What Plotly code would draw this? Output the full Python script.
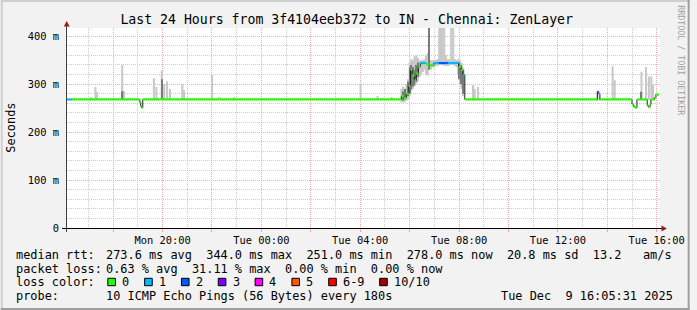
import plotly.graph_objects as go

# ---------------- data ----------------
TITLE = "Last 24 Hours from 3f4104eeb372 to IN - Chennai: ZenLayer"
Y_TITLE = "Seconds"
WATERMARK = "RRDTOOL / TOBI OETIKER"

X_RANGE = ["2025-12-08 16:08", "2025-12-09 16:08"]
Y_RANGE = [0, 417]
Y_TICKS = [0, 100, 200, 300, 400]
Y_TICK_TEXT = ["0", "100 m", "200 m", "300 m", "400 m"]
X_TICKS = ["2025-12-08 18:00", "2025-12-08 20:00", "2025-12-08 22:00",
           "2025-12-09 00:00", "2025-12-09 02:00", "2025-12-09 04:00",
           "2025-12-09 06:00", "2025-12-09 08:00", "2025-12-09 10:00",
           "2025-12-09 12:00", "2025-12-09 14:00", "2025-12-09 16:00"]
X_TICK_TEXT = ["", "Mon 20:00", "", "Tue 00:00", "", "Tue 04:00",
               "", "Tue 08:00", "", "Tue 12:00", "", "Tue 16:00"]

# median rtt (ms), step values; loss class index per step
MED_TIME = ["2025-12-08 16:08", "2025-12-08 16:20", "2025-12-08 19:05", "2025-12-08 19:07",
            "2025-12-08 19:09", "2025-12-08 19:12",
            "2025-12-09 05:40", "2025-12-09 05:46", "2025-12-09 05:52", "2025-12-09 05:58",
            "2025-12-09 06:02", "2025-12-09 06:06", "2025-12-09 06:12", "2025-12-09 06:16",
            "2025-12-09 06:21", "2025-12-09 06:26", "2025-12-09 06:40", "2025-12-09 06:48",
            "2025-12-09 06:59", "2025-12-09 07:11", "2025-12-09 07:33", "2025-12-09 07:59",
            "2025-12-09 08:05", "2025-12-09 08:09", "2025-12-09 08:14",
            "2025-12-09 13:36", "2025-12-09 13:39", "2025-12-09 13:42",
            "2025-12-09 15:00", "2025-12-09 15:04", "2025-12-09 15:08", "2025-12-09 15:12",
            "2025-12-09 15:37", "2025-12-09 15:40", "2025-12-09 15:44", "2025-12-09 15:46",
            "2025-12-09 15:55", "2025-12-09 15:58"]
MED_RTT = [268, 268, 262, 254, 251, 268,
           275, 271, 280, 296, 330, 318, 308, 322, 336, 344, 342, 339,
           344, 344, 344, 336, 329, 319, 268,
           284, 280, 268,
           258, 253, 251, 268,
           255, 252, 258, 268,
           272, 278]
MED_LOSS = [1, 0, 0, 0, 0, 0,
            0, 0, 0, 0, 0, 0, 0, 0, 0, 1, 0, 0,
            1, 2, 1, 0, 0, 1, 0,
            4, 1, 0,
            0, 0, 0, 0,
            0, 0, 0, 0,
            0, 0]
DATA_END = "2025-12-09 16:05"

# smoke (light) : time, min rtt, max rtt
SMOKE_TIME = ["2025-12-08 17:06", "2025-12-08 17:17", "2025-12-08 17:21", "2025-12-08 18:22",
              "2025-12-08 18:26", "2025-12-08 19:39", "2025-12-08 19:45", "2025-12-08 19:58",
              "2025-12-08 20:04", "2025-12-08 20:11", "2025-12-08 20:18", "2025-12-08 20:48",
              "2025-12-08 20:52", "2025-12-08 22:00", "2025-12-08 22:18", "2025-12-08 22:54",
              "2025-12-09 04:01", "2025-12-09 04:42", "2025-12-09 05:16",
              "2025-12-09 05:40", "2025-12-09 05:44", "2025-12-09 05:48", "2025-12-09 05:52",
              "2025-12-09 05:56", "2025-12-09 06:00", "2025-12-09 06:04", "2025-12-09 06:08",
              "2025-12-09 06:12", "2025-12-09 06:16", "2025-12-09 06:20", "2025-12-09 06:24",
              "2025-12-09 06:28", "2025-12-09 06:32", "2025-12-09 06:36", "2025-12-09 06:40",
              "2025-12-09 06:44", "2025-12-09 06:52", "2025-12-09 06:56", "2025-12-09 07:00",
              "2025-12-09 07:04", "2025-12-09 07:08", "2025-12-09 07:12", "2025-12-09 07:16",
              "2025-12-09 07:20", "2025-12-09 07:24", "2025-12-09 07:28", "2025-12-09 07:32",
              "2025-12-09 07:36", "2025-12-09 07:41", "2025-12-09 07:46", "2025-12-09 07:50",
              "2025-12-09 07:54", "2025-12-09 07:58", "2025-12-09 08:02", "2025-12-09 08:06",
              "2025-12-09 08:10", "2025-12-09 08:34", "2025-12-09 08:38", "2025-12-09 08:46",
              "2025-12-09 13:36", "2025-12-09 13:42", "2025-12-09 14:13", "2025-12-09 14:18",
              "2025-12-09 15:23", "2025-12-09 15:34", "2025-12-09 15:41", "2025-12-09 15:47",
              "2025-12-09 15:51"]
SMOKE_LO = [267, 267, 267, 267, 267, 267, 267, 267, 267, 267, 267, 267, 267, 267, 267, 267,
            267, 267, 267,
            262, 262, 262, 265, 268, 275, 285, 290, 295, 300, 305, 315,
            320, 325, 330, 320, 318, 330, 335, 335, 338, 338, 340, 340,
            340, 338, 338, 338, 338, 340, 340, 338, 335, 320, 300, 290,
            275, 267, 267, 267,
            265, 266, 267, 267, 267, 267, 267, 267, 267]
SMOKE_HI = [273, 294, 284, 340, 286, 312, 294, 328, 300, 306, 290, 300, 287, 319, 273, 273,
            298, 275, 273,
            290, 295, 290, 300, 310, 345, 352, 350, 358, 360, 355, 350,
            350, 350, 352, 360, 365, 350, 350, 350, 350, 352, 420, 420,
            420, 420, 360, 352, 352, 420, 420, 352, 350, 352, 350, 345,
            335, 298, 290, 294,
            286, 272, 337, 308, 326, 336, 316, 316, 298]

# smoke (dense core)
CORE_TIME = ["2025-12-08 18:23", "2025-12-08 19:58",
             "2025-12-09 05:44", "2025-12-09 05:50", "2025-12-09 05:56", "2025-12-09 06:00",
             "2025-12-09 06:04", "2025-12-09 06:08", "2025-12-09 06:12", "2025-12-09 06:16",
             "2025-12-09 06:20", "2025-12-09 06:48", "2025-12-09 08:00", "2025-12-09 08:06",
             "2025-12-09 08:11", "2025-12-09 15:23"]
CORE_LO = [267, 267, 266, 268, 275, 280, 290, 295, 298, 305, 315, 330, 310, 300, 280, 267]
CORE_HI = [285, 310, 285, 290, 305, 335, 340, 335, 330, 340, 345, 420, 345, 340, 330, 284]

STATS = [("median rtt:", "273.6 ms avg  344.0 ms max  251.0 ms min  278.0 ms now  20.8 ms sd  13.2   am/s"),
         ("packet loss:", "0.63 % avg  31.11 % max  0.00 % min  0.00 % now")]
LOSS_TITLE = "loss color:"
LOSS_LABELS = ["0", "1", "2", "3", "4", "5", "6-9", "10/10"]
LOSS_COLORS = ["#26ff00", "#00b8ff", "#0059ff", "#7e00ff", "#ff00ff", "#ff5500", "#ff0000", "#a10000"]
PROBE_TITLE = "probe:"
PROBE = "10 ICMP Echo Pings (56 Bytes) every 180s"
STAMP = "Tue Dec  9 16:05:31 2025"

# ---------------- layout helpers ----------------
W, H = 697, 310
L, R, T, B = 67, 30, 28, 82
PW, PH = W - L - R, H - T - B
MONO = "DejaVu Sans Mono"
MAJOR = "#f0a8a8"
MINOR = "#cccccc"
ARROW = "#9b1b1b"


def px(x):
    return (x - L) / PW


def py(y):
    return (H - B - y) / PH


fig = go.Figure()

# smoke
fig.add_trace(go.Bar(x=SMOKE_TIME, y=[h - l for l, h in zip(SMOKE_LO, SMOKE_HI)], base=SMOKE_LO,
                     width=5 * 60 * 1000, marker=dict(color="#c8c8c8", line=dict(width=0))))
fig.add_trace(go.Bar(x=CORE_TIME, y=[h - l for l, h in zip(CORE_LO, CORE_HI)], base=CORE_LO,
                     width=3 * 60 * 1000, marker=dict(color="#7a7a7a", line=dict(width=0))))

# thin black median line
t_all = MED_TIME + [DATA_END]
fig.add_trace(go.Scatter(x=t_all, y=MED_RTT + [MED_RTT[-1]], mode="lines", line_shape="hv",
                         line=dict(color="#202020", width=1)))

# colored median band by loss class
for cls in sorted(set(MED_LOSS)):
    xs, ys = [], []
    for i, c in enumerate(MED_LOSS):
        if c == cls:
            xs += [t_all[i], t_all[i + 1], None]
            ys += [MED_RTT[i], MED_RTT[i], None]
    fig.add_trace(go.Scatter(x=xs, y=ys, mode="lines", connectgaps=False,
                             line=dict(color=LOSS_COLORS[cls], width=2.2)))

shapes = []
ann = []


def rect(x0, y0, x1, y1, fill, line=None):
    d = dict(type="rect", xref="paper", yref="paper", x0=px(x0), x1=px(x1), y0=py(y0), y1=py(y1),
             fillcolor=fill, layer="above", line=dict(width=0))
    if line:
        d["line"] = dict(color=line, width=1)
    shapes.append(d)


def seg(x0, y0, x1, y1, color, w=1):
    shapes.append(dict(type="line", xref="paper", yref="paper", x0=px(x0), x1=px(x1), y0=py(y0), y1=py(y1),
                       line=dict(color=color, width=w), layer="above"))


def tri(pts, color):
    path = "M " + " L ".join(f"{px(a)},{py(b)}" for a, b in pts) + " Z"
    shapes.append(dict(type="path", xref="paper", yref="paper", path=path, fillcolor=color,
                       line=dict(width=0), layer="above"))


def note(x, y, text, size=11.9, anchor="left", color="#000", angle=0):
    ann.append(dict(x=px(x), y=py(y), xref="paper", yref="paper", text=text.replace(" ", "\u00a0"),
                    showarrow=False, xanchor=anchor, yanchor="middle", borderpad=0, borderwidth=0,
                    textangle=angle, font=dict(family=MONO, size=size, color=color)))


# frame
rect(0, 0, W, 2, "#cfcfcf")
rect(0, 0, 2, H, "#cfcfcf")
rect(W - 2, 0, W, H, "#9e9e9e")
rect(0, H - 2, W, H, "#9e9e9e")

# axes and arrows
seg(66.5, 232, 66.5, 25, "#404040")
seg(62, 228.5, 669, 228.5, "#000000")
tri([(66.7, 21), (63.7, 26.5), (69.7, 26.5)], ARROW)
tri([(674, 228.5), (668.5, 225.5), (668.5, 231.5)], ARROW)

# texts
note(10, 128, Y_TITLE, angle=-90, anchor="center")
note(688, 60, WATERMARK, size=8.3, anchor="center", color="#a0a0a0", angle=90)
rows = [255, 268.5, 282, 296]
for (lab, txt), yy in zip(STATS, rows[:2]):
    note(15.5, yy, lab)
    note(106.5, yy, txt)
note(15.5, rows[2], LOSS_TITLE)
bx = 108.3
for lab, col in zip(LOSS_LABELS, LOSS_COLORS):
    rect(bx, rows[2] - 3.7, bx + 7.7, rows[2] + 3.7, col, line="#000000")
    note(bx + 14.5, rows[2], lab)
    bx += 30.1 + 7.15 * len(lab)
note(15.5, rows[3], PROBE_TITLE)
note(106.5, rows[3], PROBE)
note(680.5, rows[3], STAMP, anchor="right")

fig.update_layout(
    width=W, height=H,
    margin=dict(l=L, r=R, t=T, b=B, pad=0),
    paper_bgcolor="#f2f2f2", plot_bgcolor="#ffffff",
    showlegend=False, barmode="overlay", hovermode=False,
    font=dict(family=MONO, size=10.4, color="#000"),
    title=dict(text=TITLE, x=346.7 / W, xanchor="center", xref="container",
               y=1 - 19 / H, yanchor="middle", yref="container",
               font=dict(family=MONO, size=13.2, color="#000")),
    xaxis=dict(type="date", range=X_RANGE, tickmode="array", tickvals=X_TICKS, ticktext=X_TICK_TEXT,
               showgrid=True, gridcolor=MAJOR, griddash="1px,1px", gridwidth=1,
               ticks="outside", ticklen=3, tickcolor=MAJOR,
               minor=dict(tickmode="linear", tick0="2025-12-08 17:00", dtick=3600000, showgrid=True,
                          gridcolor=MINOR, griddash="1px,1px", ticks=""),
               showline=False, zeroline=False, fixedrange=True),
    yaxis=dict(range=Y_RANGE, tickmode="array", tickvals=Y_TICKS, ticktext=Y_TICK_TEXT,
               showgrid=True, gridcolor=MAJOR, griddash="1px,1px", gridwidth=1,
               ticks="outside", ticklen=5, tickcolor="rgba(0,0,0,0)",
               minor=dict(tickmode="linear", tick0=0, dtick=20, showgrid=True,
                          gridcolor=MINOR, griddash="1px,1px", ticks=""),
               showline=False, zeroline=False, fixedrange=True),
    shapes=shapes, annotations=ann,
)

fig.write_html("out.html")
